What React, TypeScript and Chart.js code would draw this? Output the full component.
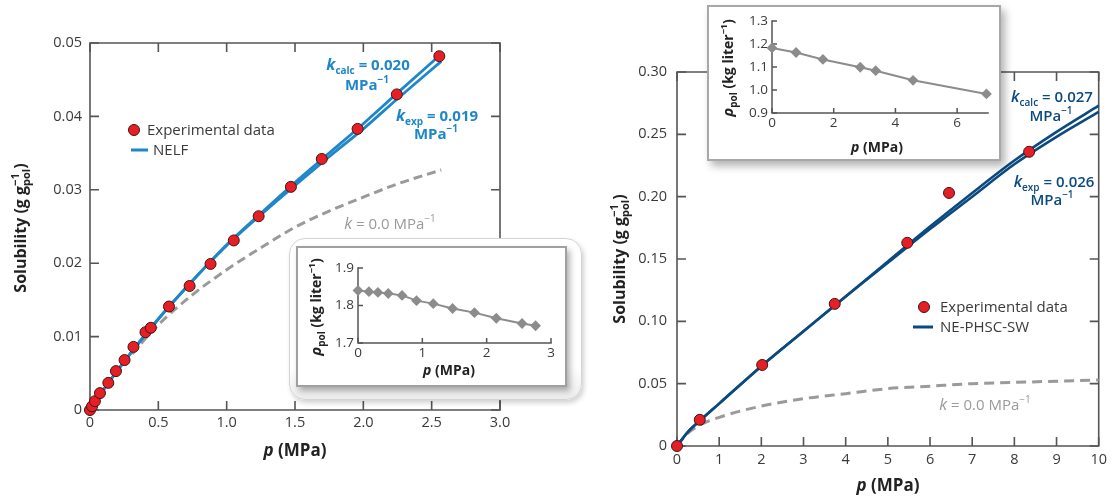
import React, { useEffect, useRef } from "react";
import { Chart, registerables } from "chart.js";
Chart.register(...registerables);

const FONT = "'Open Sans', 'Noto Sans', sans-serif";
const BLUE = "#1f87c9";
const NAVY = "#0b4a80";
const RED = "#e41f26";
const GRAY = "#9a9a9a";
const AXIS = "#555555";
const TXT = "#3a3a3a";

// ---------------- Left panel (NELF) ----------------
const leftExpP = [0, 0.015, 0.036, 0.073, 0.134, 0.19, 0.253, 0.318, 0.406, 0.445, 0.578, 0.729, 0.882, 1.052, 1.234, 1.47, 1.696, 1.958, 2.245, 2.556];
const leftExpS = [0, 0.0005, 0.0012, 0.0023, 0.0037, 0.0053, 0.0068, 0.0086, 0.0106, 0.0112, 0.0141, 0.0169, 0.0199, 0.0231, 0.0264, 0.0304, 0.0342, 0.0383, 0.043, 0.0482];
const leftModelP = [0, 0.1, 0.25, 0.5, 0.75, 1.0, 1.25, 1.5, 1.75, 2.0, 2.25, 2.57];
const leftCalcS = [0, 0.0028, 0.0066, 0.0124, 0.0176, 0.0225, 0.0268, 0.031, 0.035, 0.039, 0.0432, 0.0485];
const leftExpFitS = [0, 0.0028, 0.0066, 0.0124, 0.0176, 0.0224, 0.0266, 0.0306, 0.0345, 0.0383, 0.0424, 0.0475];
const leftK0S = [0, 0.0027, 0.0063, 0.0116, 0.0157, 0.0191, 0.0221, 0.0249, 0.0271, 0.029, 0.0308, 0.0327];
const leftXTicks = [0, 0.5, 1.0, 1.5, 2.0, 2.5, 3.0];
const leftXLabels = ["0", "0.5", "1.0", "1.5", "2.0", "2.5", "3.0"];
const leftYTicks = [0, 0.01, 0.02, 0.03, 0.04, 0.05];
const leftYLabels = ["0", "0.01", "0.02", "0.03", "0.04", "0.05"];

// Left inset (density)
const insetLP = [0, 0.17, 0.31, 0.47, 0.685, 0.91, 1.17, 1.47, 1.81, 2.15, 2.55, 2.76];
const insetLRho = [1.84, 1.837, 1.835, 1.832, 1.827, 1.813, 1.805, 1.792, 1.781, 1.766, 1.752, 1.746];
const insetLXTicks = [0, 1, 2, 3];
const insetLXLabels = ["0", "1", "2", "3"];
const insetLYTicks = [1.7, 1.8, 1.9];
const insetLYLabels = ["1.7", "1.8", "1.9"];

// ---------------- Right panel (NE-PHSC-SW) ----------------
const rightExpP = [0, 0.54, 2.02, 3.74, 5.46, 6.45, 8.35];
const rightExpS = [0, 0.021, 0.065, 0.114, 0.163, 0.203, 0.236];
const rightModelP = [0, 0.25, 0.5, 1, 2, 3, 4, 5, 6, 7, 8, 9, 10];
const rightCalcS = [0, 0.011, 0.019, 0.034, 0.064, 0.092, 0.12, 0.148, 0.176, 0.203, 0.229, 0.252, 0.273];
const rightExpFitS = [0, 0.011, 0.019, 0.034, 0.064, 0.092, 0.12, 0.147, 0.174, 0.2, 0.226, 0.248, 0.268];
const rightK0S = [0, 0.01, 0.016, 0.023, 0.032, 0.038, 0.042, 0.046, 0.048, 0.05, 0.051, 0.052, 0.053];
const rightXTicks = [0, 1, 2, 3, 4, 5, 6, 7, 8, 9, 10];
const rightXLabels = ["0", "1", "2", "3", "4", "5", "6", "7", "8", "9", "10"];
const rightYTicks = [0, 0.05, 0.1, 0.15, 0.2, 0.25, 0.3];
const rightYLabels = ["0", "0.05", "0.10", "0.15", "0.20", "0.25", "0.30"];

// Right inset (density)
const insetRP = [0, 0.78, 1.65, 2.86, 3.36, 4.57, 6.95];
const insetRRho = [1.183, 1.163, 1.133, 1.099, 1.084, 1.042, 0.983];
const insetRXTicks = [0, 2, 4, 6];
const insetRXLabels = ["0", "2", "4", "6"];
const insetRYTicks = [0.9, 1.0, 1.1, 1.2, 1.3];
const insetRYLabels = ["0.9", "1.0", "1.1", "1.2", "1.3"];

// ---------------- helpers ----------------
type Seg = { t?: string; w?: string; s?: number; dy?: number; sup?: string; sub?: string; ss?: number; supDy?: number; subDy?: number };
type Note = { x: number; y: number; segs: Seg[]; color: string; align?: string; rotate?: boolean };

const zip = (xs: number[], ys: number[]) => xs.map((x, i) => ({ x, y: ys[i] }));
const font = (w: string | undefined, s: number) => `${w || "normal"} ${s}px ${FONT}`;

function segWidth(ctx: CanvasRenderingContext2D, g: Seg) {
  if (g.sup !== undefined || g.sub !== undefined) {
    ctx.font = font(g.w, g.ss || 10);
    const a = g.sup ? ctx.measureText(g.sup).width : 0;
    const b = g.sub ? ctx.measureText(g.sub).width : 0;
    return Math.max(a, b);
  }
  ctx.font = font(g.w, g.s || 14);
  return ctx.measureText(g.t || "").width;
}

function drawRich(ctx: CanvasRenderingContext2D, n: Note, ox: number, oy: number) {
  ctx.save();
  ctx.translate(n.x - ox, n.y - oy);
  if (n.rotate) ctx.rotate(-Math.PI / 2);
  ctx.fillStyle = n.color;
  ctx.textBaseline = "alphabetic";
  ctx.textAlign = "left";
  const W = n.segs.reduce((a, g) => a + segWidth(ctx, g), 0);
  const align = n.align || "center";
  let cx = align === "center" ? -W / 2 : align === "right" ? -W : 0;
  for (const g of n.segs) {
    const w = segWidth(ctx, g);
    if (g.sup !== undefined || g.sub !== undefined) {
      ctx.font = font(g.w, g.ss || 10);
      if (g.sup) ctx.fillText(g.sup, cx, g.supDy ?? -7);
      if (g.sub) ctx.fillText(g.sub, cx, g.subDy ?? 4);
    } else {
      ctx.font = font(g.w, g.s || 14);
      ctx.fillText(g.t || "", cx, g.dy || 0);
    }
    cx += w;
  }
  ctx.restore();
}

type LegendItem = { kind: "point" | "line"; x: number; y: number; x2?: number; color: string; label: string; tx: number };

type Decor = {
  box: boolean;
  tickLen: number;
  lw: number;
  ox: number;
  oy: number;
  notes: Note[];
  legend?: LegendItem[];
};

function makeDecor(cfg: Decor) {
  return {
    id: "decor",
    beforeDatasetsDraw(chart: any) {
      const { ctx, chartArea: a, scales } = chart;
      const sx = scales.x, sy = scales.y;
      ctx.save();
      ctx.strokeStyle = AXIS;
      ctx.lineWidth = cfg.lw;
      ctx.lineCap = "square";
      ctx.beginPath();
      if (cfg.box) {
        ctx.rect(a.left, a.top, a.right - a.left, a.bottom - a.top);
      } else {
        ctx.moveTo(a.left, a.top);
        ctx.lineTo(a.left, a.bottom);
        ctx.lineTo(a.right, a.bottom);
      }
      ctx.stroke();
      ctx.lineCap = "butt";
      ctx.beginPath();
      const L = cfg.tickLen;
      sx.ticks.forEach((t: any) => {
        const px = sx.getPixelForValue(t.value);
        ctx.moveTo(px, a.bottom);
        ctx.lineTo(px, a.bottom - L);
        if (cfg.box) {
          ctx.moveTo(px, a.top);
          ctx.lineTo(px, a.top + L);
        }
      });
      sy.ticks.forEach((t: any) => {
        const py = sy.getPixelForValue(t.value);
        ctx.moveTo(a.left, py);
        ctx.lineTo(a.left + L, py);
        if (cfg.box) {
          ctx.moveTo(a.right, py);
          ctx.lineTo(a.right - L, py);
        }
      });
      ctx.stroke();
      ctx.restore();
    },
    afterDraw(chart: any) {
      const ctx = chart.ctx as CanvasRenderingContext2D;
      for (const n of cfg.notes) drawRich(ctx, n, cfg.ox, cfg.oy);
      if (cfg.legend) {
        ctx.save();
        for (const it of cfg.legend) {
          if (it.kind === "point") {
            ctx.beginPath();
            ctx.arc(it.x - cfg.ox, it.y - cfg.oy, 5.5, 0, Math.PI * 2);
            ctx.fillStyle = RED;
            ctx.fill();
            ctx.lineWidth = 1;
            ctx.strokeStyle = "#4a1111";
            ctx.stroke();
          } else {
            ctx.beginPath();
            ctx.moveTo(it.x - cfg.ox, it.y - cfg.oy);
            ctx.lineTo((it.x2 || it.x) - cfg.ox, it.y - cfg.oy);
            ctx.lineWidth = 3;
            ctx.strokeStyle = it.color;
            ctx.stroke();
          }
          ctx.fillStyle = TXT;
          ctx.font = font("normal", 15);
          ctx.textBaseline = "middle";
          ctx.textAlign = "left";
          ctx.fillText(it.label, it.tx - cfg.ox, it.y - cfg.oy + 1);
        }
        ctx.restore();
      }
    },
  };
}

function linScale(axis: "x" | "y", min: number, max: number, vals: number[], labels: string[], fixed: number, pad: number, size: number) {
  return {
    type: "linear",
    position: axis === "x" ? "bottom" : "left",
    min,
    max,
    grid: { display: false, drawTicks: false },
    border: { display: false },
    afterBuildTicks: (s: any) => {
      s.ticks = vals.map((v) => ({ value: v }));
    },
    afterFit: (s: any) => {
      if (axis === "x") s.height = fixed;
      else s.width = fixed;
    },
    ticks: {
      padding: pad,
      color: TXT,
      autoSkip: false,
      maxRotation: 0,
      font: { family: FONT, size },
      callback: (_v: any, i: number) => labels[i] ?? "",
    },
  };
}

function baseOptions(padTop: number, padRight: number, xs: any, ys: any) {
  return {
    responsive: false,
    animation: false,
    events: [],
    layout: { padding: { left: 0, top: padTop, right: padRight, bottom: 0 } },
    plugins: { legend: { display: false }, tooltip: { enabled: false } },
    scales: { x: xs, y: ys },
  };
}

const pointsDs = (xs: number[], ys: number[]) => ({
  label: "Experimental data",
  data: zip(xs, ys),
  showLine: false,
  pointRadius: 5.5,
  pointBackgroundColor: RED,
  pointBorderColor: "#4a1111",
  pointBorderWidth: 1,
  clip: false,
});
const lineDs = (xs: number[], ys: number[], color: string, width: number, dash?: number[]) => ({
  data: zip(xs, ys),
  showLine: true,
  borderColor: color,
  borderWidth: width,
  borderDash: dash || [],
  pointRadius: 0,
  cubicInterpolationMode: "monotone",
  clip: false,
});
const insetDs = (xs: number[], ys: number[]) => ({
  data: zip(xs, ys),
  showLine: true,
  borderColor: "#8c8c8c",
  borderWidth: 2,
  pointStyle: "rectRot",
  pointRadius: 4,
  pointBackgroundColor: "#8c8c8c",
  pointBorderColor: "#8c8c8c",
  clip: false,
});

const kSeg = (sub: string, rest: string, w: string, s: number): Seg[] => [
  { t: "k", w: w + " italic", s: s + 1 },
  { t: sub, w, s: s - 5, dy: 4 },
  { t: rest, w, s },
];
const mpaSeg = (w: string, s: number): Seg[] => [
  { t: "MPa", w, s },
  { t: "−1", w, s: s - 5, dy: -7 },
];
const solTitle = (s: number): Seg[] => [
  { t: "Solubility (g g", w: "bold", s },
  { sup: "−1", sub: "pol", w: "bold", ss: s - 5, supDy: -7, subDy: 4 },
  { t: ")", w: "bold", s },
];
const pTitle = (s: number): Seg[] => [
  { t: "p", w: "bold italic", s },
  { t: " (MPa)", w: "bold", s },
];
const rhoTitle = (s: number): Seg[] => [
  { t: "ρ", w: "bold italic", s: s + 1 },
  { t: "pol", w: "bold", s: s - 4, dy: 4 },
  { t: " (kg liter", w: "bold", s },
  { t: "−1", w: "bold", s: s - 5, dy: -6 },
  { t: ")", w: "bold", s },
];

// ---------------- chart builders ----------------
function buildLeft() {
  const notes: Note[] = [
    { x: 368, y: 70, color: BLUE, segs: kSeg("calc", " = 0.020", "bold", 15) },
    { x: 367, y: 90, color: BLUE, segs: mpaSeg("bold", 15) },
    { x: 437, y: 121, color: BLUE, segs: kSeg("exp", " = 0.019", "bold", 15) },
    { x: 436, y: 139, color: BLUE, segs: mpaSeg("bold", 15) },
    { x: 390, y: 229, color: GRAY, segs: [{ t: "k", w: "italic", s: 16 }, { t: " = 0.0 MPa", s: 15 }, { t: "−1", s: 10, dy: -7 }] },
    { x: 26, y: 228, color: "#222", rotate: true, segs: solTitle(16) },
    { x: 295, y: 456, color: "#222", segs: pTitle(17) },
  ];
  const legend: LegendItem[] = [
    { kind: "point", x: 134, y: 130, color: RED, label: "Experimental data", tx: 147 },
    { kind: "line", x: 131, x2: 148, y: 150, color: BLUE, label: "NELF", tx: 153 },
  ];
  return {
    type: "scatter",
    data: {
      datasets: [
        pointsDs(leftExpP, leftExpS),
        lineDs(leftModelP, leftCalcS, BLUE, 2.8),
        lineDs(leftModelP, leftExpFitS, BLUE, 2.8),
        lineDs(leftModelP, leftK0S, GRAY, 3, [9, 5]),
      ],
    },
    options: baseOptions(
      43,
      20,
      linScale("x", 0, 3, leftXTicks, leftXLabels, 89, 4, 14.5),
      linScale("y", 0, 0.05, leftYTicks, leftYLabels, 90, 8, 14.5)
    ),
    plugins: [makeDecor({ box: true, tickLen: 9, lw: 1.6, ox: 0, oy: 0, notes, legend })],
  };
}

function buildRight() {
  const notes: Note[] = [
    { x: 1052, y: 102, color: NAVY, segs: kSeg("calc", " = 0.027", "600", 15) },
    { x: 1051, y: 121, color: NAVY, segs: mpaSeg("600", 15) },
    { x: 1054, y: 187, color: NAVY, segs: kSeg("exp", " = 0.026", "600", 15) },
    { x: 1052, y: 205, color: NAVY, segs: mpaSeg("600", 15) },
    { x: 985, y: 410, color: GRAY, segs: [{ t: "k", w: "italic", s: 16 }, { t: " = 0.0 MPa", s: 15 }, { t: "−1", s: 10, dy: -7 }] },
    { x: 625, y: 259, color: "#222", rotate: true, segs: solTitle(16) },
    { x: 888, y: 491, color: "#222", segs: pTitle(17) },
  ];
  const legend: LegendItem[] = [
    { kind: "point", x: 924, y: 307, color: RED, label: "Experimental data", tx: 940 },
    { kind: "line", x: 913, x2: 933, y: 327, color: NAVY, label: "NE-PHSC-SW", tx: 940 },
  ];
  return {
    type: "scatter",
    data: {
      datasets: [
        pointsDs(rightExpP, rightExpS),
        lineDs(rightModelP, rightCalcS, NAVY, 2.6),
        lineDs(rightModelP, rightExpFitS, NAVY, 2.6),
        lineDs(rightModelP, rightK0S, GRAY, 3, [10, 6]),
      ],
    },
    options: baseOptions(
      72,
      10,
      linScale("x", 0, 10, rightXTicks, rightXLabels, 53, 5, 14.5),
      linScale("y", 0, 0.3, rightYTicks, rightYLabels, 117, 10, 14.5)
    ),
    plugins: [makeDecor({ box: true, tickLen: 9, lw: 1.6, ox: 560, oy: 0, notes, legend })],
  };
}

function buildInsetLeft() {
  const notes: Note[] = [
    { x: 321, y: 307, color: "#222", rotate: true, segs: rhoTitle(14) },
    { x: 449, y: 375, color: "#222", segs: pTitle(14) },
  ];
  return {
    type: "scatter",
    data: { datasets: [insetDs(insetLP, insetLRho)] },
    options: baseOptions(
      20,
      14,
      linScale("x", 0, 3, insetLXTicks, insetLXLabels, 42, 2, 13.5),
      linScale("y", 1.7, 1.9, insetLYTicks, insetLYLabels, 60, 4, 13.5)
    ),
    plugins: [makeDecor({ box: false, tickLen: 5, lw: 1.5, ox: 298, oy: 248, notes })],
  };
}

function buildInsetRight() {
  const notes: Note[] = [
    { x: 733, y: 68, color: "#222", rotate: true, segs: rhoTitle(14) },
    { x: 877, y: 152, color: "#222", segs: pTitle(14) },
  ];
  return {
    type: "scatter",
    data: { datasets: [insetDs(insetRP, insetRRho)] },
    options: baseOptions(
      14,
      11,
      linScale("x", 0, 7, insetRXTicks, insetRXLabels, 46, 2, 13.5),
      linScale("y", 0.9, 1.3, insetRYTicks, insetRYLabels, 63, 4, 13.5)
    ),
    plugins: [makeDecor({ box: false, tickLen: 5, lw: 1.5, ox: 709, oy: 7, notes })],
  };
}

function ChartCanvas({ left, top, width, height, build }: { left: number; top: number; width: number; height: number; build: () => any }) {
  const ref = useRef<HTMLCanvasElement>(null);
  useEffect(() => {
    const chart = new Chart(ref.current as HTMLCanvasElement, build());
    return () => chart.destroy();
  }, []);
  return (
    <canvas
      ref={ref}
      width={width}
      height={height}
      style={{ position: "absolute", left, top, width, height, display: "block" }}
    />
  );
}

export default function App() {
  return (
    <div style={{ position: "absolute", left: 0, top: 0, width: 1112, height: 499, background: "#fff", overflow: "hidden" }}>
      <ChartCanvas left={0} top={0} width={520} height={499} build={buildLeft} />
      <ChartCanvas left={560} top={0} width={552} height={499} build={buildRight} />
      {/* left inset rounded panel */}
      <div
        style={{
          position: "absolute",
          left: 289,
          top: 238,
          width: 293,
          height: 162,
          boxSizing: "border-box",
          borderRadius: 16,
          border: "1px solid #d4d4d4",
          background: "linear-gradient(180deg, #ffffff 80%, #ececec 100%)",
          boxShadow: "2px 3px 5px rgba(0,0,0,0.18)",
        }}
      />
      <div
        style={{
          position: "absolute",
          left: 296,
          top: 246,
          width: 271,
          height: 141,
          boxSizing: "border-box",
          border: "2px solid #a0a0a0",
          background: "#fff",
          boxShadow: "3px 4px 6px rgba(0,0,0,0.3)",
        }}
      />
      <ChartCanvas left={298} top={248} width={267} height={137} build={buildInsetLeft} />
      {/* right inset box */}
      <div
        style={{
          position: "absolute",
          left: 707,
          top: 5,
          width: 294,
          height: 156,
          boxSizing: "border-box",
          border: "2px solid #a8a8a8",
          background: "#fff",
          boxShadow: "4px 5px 8px rgba(0,0,0,0.3)",
        }}
      />
      <ChartCanvas left={709} top={7} width={290} height={152} build={buildInsetRight} />
    </div>
  );
}
